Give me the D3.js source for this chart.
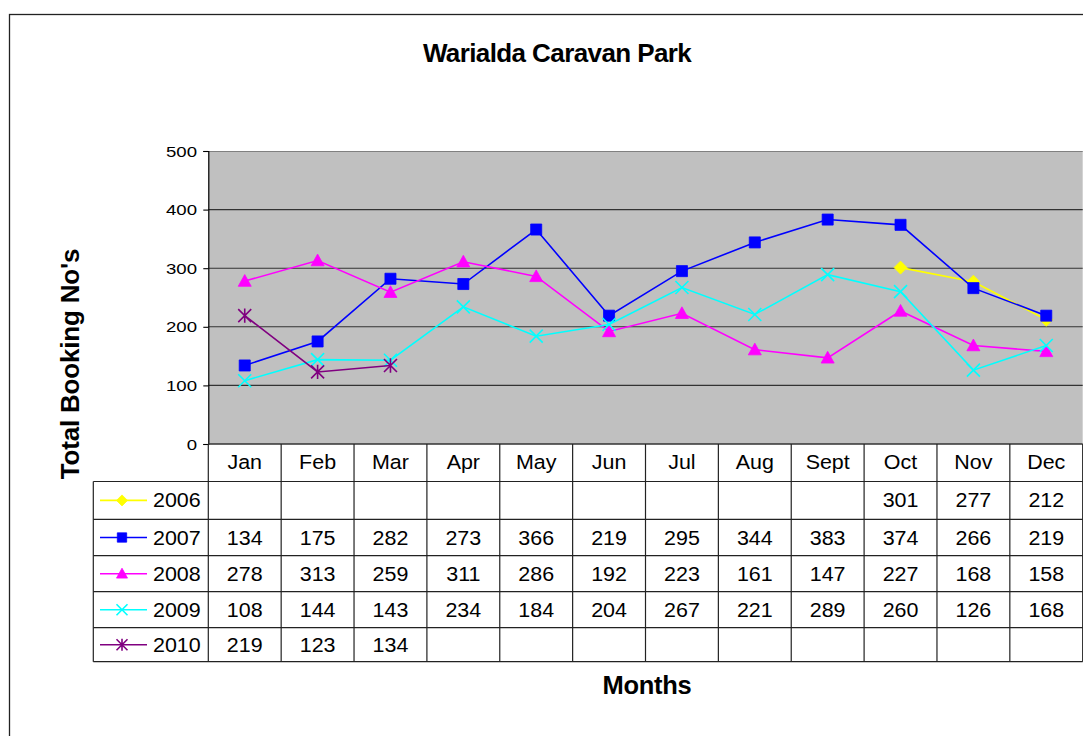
<!DOCTYPE html>
<html><head><meta charset="utf-8">
<script src="https://cdn.jsdelivr.net/npm/d3@7/dist/d3.min.js"></script>
<style>
html,body{margin:0;padding:0;background:#fff;}
svg{display:block;font-family:"Liberation Sans",Arial,sans-serif;}
</style></head>
<body><svg id="c" width="1083" height="736"></svg>
<script>
const months = ["Jan","Feb","Mar","Apr","May","Jun","Jul","Aug","Sept","Oct","Nov","Dec"];
const seriesNames = ["2006","2007","2008","2009","2010"];
const v2006 = [null,null,null,null,null,null,null,null,null,301,277,212];
const v2007 = [134,175,282,273,366,219,295,344,383,374,266,219];
const v2008 = [278,313,259,311,286,192,223,161,147,227,168,158];
const v2009 = [108,144,143,234,184,204,267,221,289,260,126,168];
const v2010 = [219,123,134,null,null,null,null,null,null,null,null,null];
const yTicks = [0,100,200,300,400,500];
const colors = ["#FFFF00","#0000FF","#FF00FF","#00FFFF","#800080"];
const markers = ["diamond","square","triangle","x","star"];
const seriesValues = [v2006,v2007,v2008,v2009,v2010];

const svg = d3.select("#c");
const L = 208.3, R = 1082.7, T = 151, B = 444;
const x = d3.scaleBand().domain(months).range([L, R]).padding(0);
const y = d3.scaleLinear().domain([0, 500]).range([B, T]);

// outer border
svg.append("rect").attr("x",9.5).attr("y",14.5).attr("width",1200).attr("height",900)
  .attr("fill","none").attr("stroke","#222").attr("stroke-width",1.3);

// title
svg.append("text").attr("x",557).attr("y",62).attr("text-anchor","middle")
  .attr("font-weight","bold").attr("font-size",26).attr("letter-spacing",-0.6).text("Warialda Caravan Park");

// plot area
svg.append("rect").attr("x",L).attr("y",T).attr("width",R-L).attr("height",B-T).attr("fill","#C0C0C0");
svg.append("line").attr("x1",L).attr("x2",R).attr("y1",T+0.5).attr("y2",T+0.5).attr("stroke","#808080").attr("stroke-width",1.2);

// gridlines
svg.append("g").selectAll("line").data(yTicks.filter(d=>d>0 && d<500)).join("line")
  .attr("x1",L).attr("x2",R).attr("y1",d=>y(d)).attr("y2",d=>y(d))
  .attr("stroke","#333").attr("stroke-width",1.1);

// y axis
const yAxis = svg.append("g").attr("transform",`translate(${L},0)`)
  .call(d3.axisLeft(y).tickValues(yTicks).tickSize(5).tickFormat(""));
yAxis.select(".domain").attr("stroke","#000").attr("stroke-width",1.2);
yAxis.selectAll(".tick line").attr("stroke","#000").attr("stroke-width",1.1);
svg.append("g").selectAll("text").data(yTicks).join("text")
  .attr("transform",d=>`translate(197,${y(d)+5.5}) scale(1.2,1)`)
  .attr("text-anchor","end").attr("font-size",15.5).attr("fill","#000")
  .text(d=>d3.format("d")(d));

// bottom axis line
svg.append("line").attr("x1",L).attr("x2",R).attr("y1",B).attr("y2",B).attr("stroke","#333").attr("stroke-width",1.3);

// Y title
svg.append("text").attr("transform","translate(79,364) rotate(-90)").attr("text-anchor","middle")
  .attr("font-weight","bold").attr("font-size",26).attr("letter-spacing",-0.2).text("Total Booking No's");
// X title
svg.append("text").attr("x",647).attr("y",694).attr("text-anchor","middle")
  .attr("font-weight","bold").attr("font-size",25.5).attr("letter-spacing",-0.3).text("Months");

// marker path generator
function markerPath(type, s){
  const h = s/2;
  switch(type){
    case "diamond": return `M0,${-h}L${h},0L0,${h}L${-h},0Z`;
    case "square": return `M${-h*0.85},${-h*0.85}h${1.7*h}v${1.7*h}h${-1.7*h}Z`;
    case "triangle": return `M0,${-h}L${h},${h*0.8}L${-h},${h*0.8}Z`;
    case "x": return `M${-h},${-h}L${h},${h}M${-h},${h}L${h},${-h}`;
    case "star": return `M${-h},${-h}L${h},${h}M${-h},${h}L${h},${-h}M0,${-h*1.1}L0,${h*1.1}`;
  }
}
const filled = t => t==="diamond"||t==="square"||t==="triangle";

// series
const lineGen = d3.line().defined(d=>d.v!=null).x(d=>x(d.m)+x.bandwidth()/2).y(d=>y(d.v));
seriesValues.forEach((vals,i)=>{
  const pts = months.map((m,j)=>({m, v: vals[j]}));
  const g = svg.append("g");
  g.append("path").datum(pts).attr("d",lineGen).attr("fill","none")
    .attr("stroke",colors[i]).attr("stroke-width",1.6);
  g.selectAll("path.mk").data(pts.filter(d=>d.v!=null)).join("path").attr("class","mk")
    .attr("transform",d=>`translate(${x(d.m)+x.bandwidth()/2},${y(d.v)})`)
    .attr("d",markerPath(markers[i], 13))
    .attr("fill",filled(markers[i])?colors[i]:"none")
    .attr("stroke",colors[i]).attr("stroke-width",filled(markers[i])?0.8:1.6);
});

// data table
const rowLines = [481.5,519.3,555.7,591.7,627.7,661.7];
const tableLeft = 93.3;
const tg = svg.append("g");
const lineC = "#222";
rowLines.forEach(yy=>{
  tg.append("line").attr("x1",tableLeft).attr("x2",R).attr("y1",yy).attr("y2",yy).attr("stroke",lineC).attr("stroke-width",1.2);
});
tg.append("line").attr("x1",tableLeft).attr("x2",tableLeft).attr("y1",481.5).attr("y2",661.7).attr("stroke",lineC).attr("stroke-width",1.2);
const bounds = months.map(m=>x(m)).concat([R]);
bounds.forEach(xx=>{
  tg.append("line").attr("x1",xx).attr("x2",xx).attr("y1",B).attr("y2",661.7).attr("stroke",lineC).attr("stroke-width",1.2);
});
const sx = 1.1;
function stext(g, cx, by, txt, size){
  g.append("text").attr("transform",`translate(${cx},${by}) scale(${sx},1)`)
    .attr("text-anchor","middle").attr("font-size",size).attr("fill","#000").text(txt);
}
months.forEach(m=>stext(tg, x(m)+x.bandwidth()/2, 469, m, 19.5));
seriesValues.forEach((vals,i)=>{
  const cy = (rowLines[i]+rowLines[i+1])/2;
  vals.forEach((v,j)=>{ if(v!=null) stext(tg, x(months[j])+x.bandwidth()/2, cy+7, String(v), 19.5); });
  tg.append("line").attr("x1",100).attr("x2",147).attr("y1",cy).attr("y2",cy).attr("stroke",colors[i]).attr("stroke-width",1.6);
  tg.append("path").attr("transform",`translate(122,${cy})`).attr("d",markerPath(markers[i],11))
    .attr("fill",filled(markers[i])?colors[i]:"none").attr("stroke",colors[i]).attr("stroke-width",filled(markers[i])?0.8:1.6);
  tg.append("text").attr("transform",`translate(153,${cy+7}) scale(${sx},1)`)
    .attr("font-size",19.5).attr("fill","#000").text(seriesNames[i]);
});
</script></body></html>
